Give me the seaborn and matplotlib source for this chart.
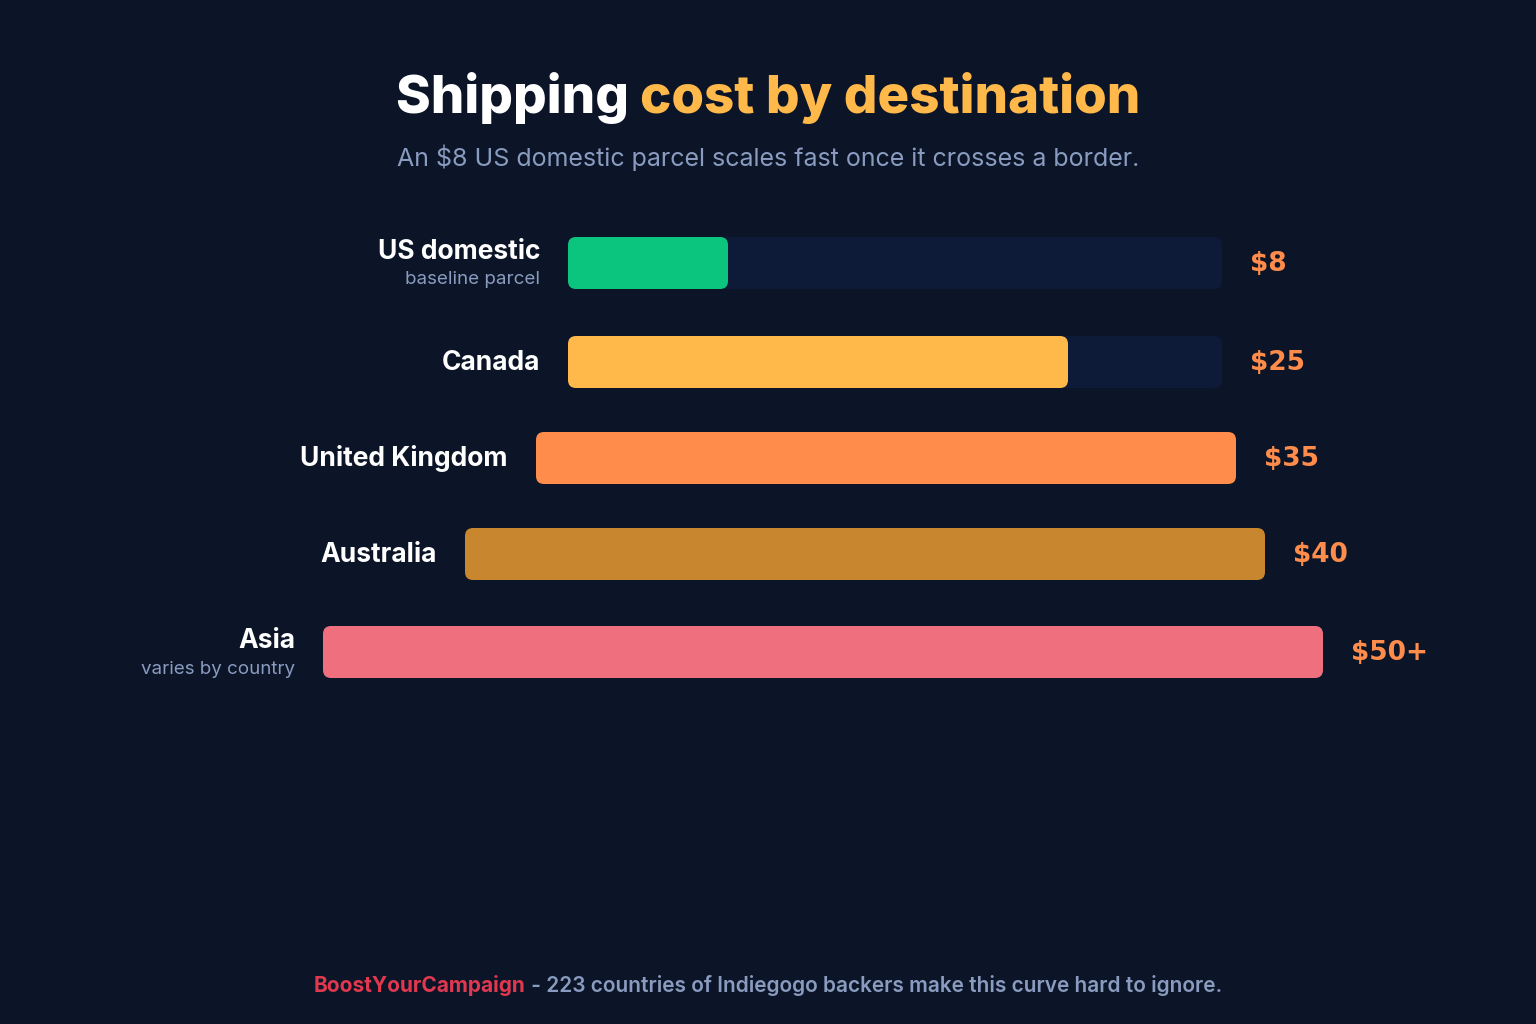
import matplotlib
matplotlib.use("Agg")
import matplotlib.pyplot as plt
from matplotlib.patches import FancyBboxPatch
import seaborn as sns

# data
destinations = ["US domestic", "Canada", "United Kingdom", "Australia", "Asia"]
sublabels = ["baseline parcel", "", "", "", "varies by country"]
costs = [8, 25, 35, 40, 50]
cost_labels = ["$8", "$25", "$35", "$40", "$50+"]
bar_colors = ["#0BC57F", "#FFB84A", "#FF8C4B", "#C8862E", "#EF6F7E"]

# layout (pixels)
px_per_dollar = 20
bar_left = [568, 568, 536, 465, 323]
row_y = [263, 362, 458, 554, 652]
track_len = [654, 654, 0, 0, 0]
bar_h = 52

BG = "#0B1527"
TRACK = "#0E1B38"
MUTED = "#8A9BC0"

sns.set_theme(style="dark", rc={"axes.facecolor": BG, "figure.facecolor": BG})
plt.rcParams["font.family"] = ["Inter", "DejaVu Sans"]

fig = plt.figure(figsize=(15.36, 10.24), dpi=100)
ax = fig.add_axes([0, 0, 1, 1])
ax.set_xlim(0, 1536)
ax.set_ylim(1024, 0)
ax.axis("off")

def rbar(x, y, w, color):
    ax.add_patch(FancyBboxPatch((x, y - bar_h / 2), w, bar_h,
                                boxstyle="round,pad=0,rounding_size=8",
                                fc=color, ec="none"))

for i, name in enumerate(destinations):
    x0, y = bar_left[i], row_y[i]
    w = costs[i] * px_per_dollar
    if track_len[i]:
        rbar(x0, y, track_len[i], TRACK)
    rbar(x0, y, w, bar_colors[i])
    right = x0 + max(w, track_len[i])
    ax.text(right + 28, y + 1, cost_labels[i], color="#FF8C4B", fontsize=19,
            fontweight="bold", family=["DejaVu Sans"], va="center", ha="left")
    if sublabels[i]:
        ax.text(x0 - 28, y - 11, name, color="white", fontsize=19,
                fontweight="bold", ha="right", va="center")
        ax.text(x0 - 28, y + 17, sublabels[i], color=MUTED, fontsize=13.5,
                ha="right", va="center")
    else:
        ax.text(x0 - 28, y + 1, name, color="white", fontsize=19,
                fontweight="bold", ha="right", va="center")

# title in two colours
fig.canvas.draw()
r = fig.canvas.get_renderer()
t1 = ax.text(0, 98, "Shipping ", color="white", fontsize=38, fontweight="heavy", va="center")
t2 = ax.text(0, 98, "cost by destination", color="#FFB84A", fontsize=38, fontweight="heavy", va="center")
inv = ax.transData.inverted()
def width(t):
    bb = t.get_window_extent(r)
    return inv.transform((bb.x1, 0))[0] - inv.transform((bb.x0, 0))[0]
w1, w2 = width(t1), width(t2)
start = 768 - (w1 + w2) / 2
t1.set_x(start)
t2.set_x(start + w1)

ax.text(768, 158, "An $8 US domestic parcel scales fast once it crosses a border.",
        color=MUTED, fontsize=18, ha="center", va="center")

f1 = ax.text(0, 985, "BoostYourCampaign", color="#E0384F", fontsize=15, fontweight="bold", va="center")
f2 = ax.text(0, 985, " - 223 countries of Indiegogo backers make this curve hard to ignore.",
             color=MUTED, fontsize=15, fontweight="semibold", va="center")
a, b = width(f1), width(f2)
s = 768 - (a + b) / 2
f1.set_x(s)
f2.set_x(s + a)

fig.savefig("out.png", dpi=100, facecolor=BG)
